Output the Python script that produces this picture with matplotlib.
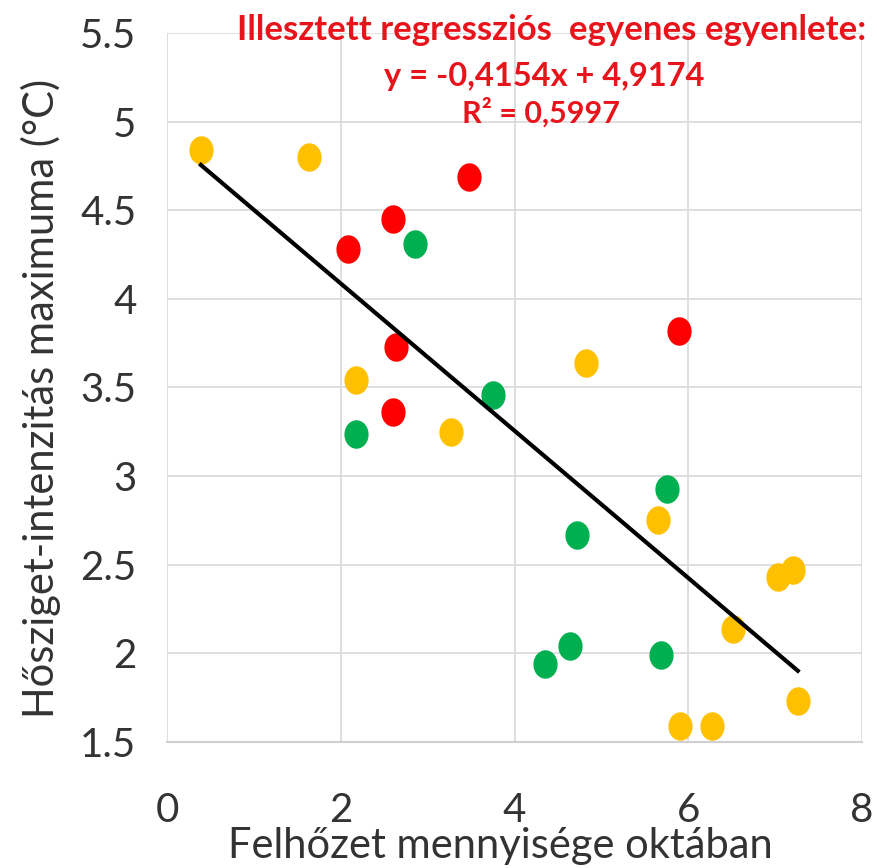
import matplotlib
matplotlib.use("Agg")
import matplotlib.pyplot as plt
import numpy as np
from matplotlib.path import Path

plt.rcParams['font.family'] = ['Lato', 'DejaVu Sans']

# Cloud cover (octas) and maximum urban heat island intensity (°C), by group
red_x = [3.48, 2.60, 2.08, 5.89, 2.64, 2.60]
red_y = [4.69, 4.45, 4.28, 3.82, 3.73, 3.36]

yellow_x = [0.39, 1.64, 2.17, 4.82, 3.27, 5.65, 7.03, 7.21, 6.51, 5.91, 6.27, 7.26]
yellow_y = [4.84, 4.80, 3.54, 3.64, 3.25, 2.75, 2.43, 2.47, 2.14, 1.59, 1.59, 1.73]

green_x = [2.85, 3.75, 2.18, 5.76, 4.72, 4.35, 4.64, 5.68]
green_y = [4.31, 3.46, 3.24, 2.93, 2.67, 1.94, 2.04, 1.99]

slope = -0.4154
intercept = 4.9174
r2 = 0.5997

x_ticks = [0, 2, 4, 6, 8]
y_ticks = [1.5, 2, 2.5, 3, 3.5, 4, 4.5, 5, 5.5]

fig = plt.figure(figsize=(8.77, 8.68), dpi=100)
ax = fig.add_axes([0.1904, 0.1452, 0.7926, 0.8168])

# slightly tall elliptical marker
t = np.linspace(0, 2 * np.pi, 60)
ell = Path(np.column_stack([0.85 * np.cos(t), np.sin(t)]), closed=True)

ms = 420
ax.scatter(yellow_x, yellow_y, s=ms, marker=ell, color='#FFC000', zorder=3, linewidths=0)
ax.scatter(green_x, green_y, s=ms, marker=ell, color='#00B050', zorder=3, linewidths=0)
ax.scatter(red_x, red_y, s=ms, marker=ell, color='#FF0000', zorder=3, linewidths=0)

all_x = np.array(red_x + yellow_x + green_x)
lx = np.array([all_x.min(), all_x.max()])
ax.plot(lx, slope * lx + intercept, color='black', lw=3, zorder=4)

ax.set_xlim(0, 8)
ax.set_ylim(1.5, 5.5)
ax.set_xticks(x_ticks)
ax.set_yticks(y_ticks)
ax.set_xticklabels([f"{v:g}" for v in x_ticks])
ax.set_yticklabels([f"{v:g}" for v in y_ticks])
ax.tick_params(axis='both', length=0, labelsize=29, colors='#333333')
ax.tick_params(axis='x', pad=36)
ax.tick_params(axis='y', pad=22)

ax.grid(True, color='#D9D9D9', lw=1.2, zorder=0)
for s in ['top', 'right', 'left']:
    ax.spines[s].set_visible(False)
ax.spines['bottom'].set_color('#D0D0D0')
ax.spines['bottom'].set_linewidth(1.5)

xl = ax.set_xlabel("Felhőzet mennyisége oktában", fontsize=30, color='#333333')
ax.xaxis.set_label_coords(0.48, -0.147)
xl.set_va('center')
yl = ax.set_ylabel("Hősziget-intenzitás maximuma (°C)", fontsize=30, color='#333333')
ax.yaxis.set_label_coords(-0.182, 0.485)
yl.set_va('center')

red_txt = '#E8141C'
fig.text(0.629, 0.966, "Illesztett regressziós  egyenes egyenlete:", ha='center', va='center',
         fontsize=25, fontweight='bold', color=red_txt)
eq = f"y = {slope:.4f}x + {intercept:.4f}".replace('.', ',')
fig.text(0.621, 0.912, eq, ha='center', va='center', fontsize=23.5, fontweight='bold', color=red_txt)
fig.text(0.617, 0.870, f"R² = {r2:.4f}".replace('.', ','), ha='center', va='center',
         fontsize=22, fontweight='bold', color=red_txt)

fig.savefig("out.png", dpi=100, facecolor='white')
